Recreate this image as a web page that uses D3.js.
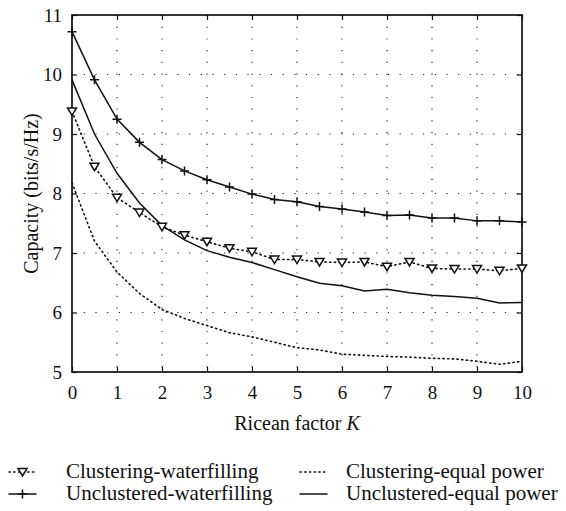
<!DOCTYPE html>
<html>
<head>
<meta charset="utf-8">
<script src="https://cdn.jsdelivr.net/npm/d3@7"></script>
<style>
  html, body { margin: 0; padding: 0; background: #fff; }
  svg text { font-family: "Liberation Serif", "Times New Roman", serif; fill: #111; }
</style>
</head>
<body>
<svg id="chart" width="566" height="511"></svg>
<script>
// Ricean factor K (x positions of all four curves)
const kValues = [0, 0.5, 1, 1.5, 2, 2.5, 3, 3.5, 4, 4.5, 5, 5.5, 6, 6.5, 7, 7.5, 8, 8.5, 9, 9.5, 10];

const clusteringWaterfilling = [9.38, 8.45, 7.93, 7.68, 7.44, 7.30, 7.19, 7.08, 7.02, 6.89, 6.89, 6.85, 6.84, 6.85, 6.77, 6.85, 6.74, 6.73, 6.73, 6.70, 6.74];
const unclusteredWaterfilling = [10.72, 9.91, 9.25, 8.86, 8.57, 8.38, 8.23, 8.11, 7.99, 7.90, 7.86, 7.78, 7.74, 7.69, 7.63, 7.64, 7.59, 7.59, 7.54, 7.54, 7.52];
const clusteringEqualPower = [8.18, 7.20, 6.68, 6.32, 6.05, 5.90, 5.78, 5.66, 5.59, 5.50, 5.41, 5.37, 5.30, 5.28, 5.26, 5.25, 5.23, 5.22, 5.18, 5.13, 5.18];
const unclusteredEqualPower = [9.91, 9.00, 8.34, 7.84, 7.46, 7.22, 7.04, 6.93, 6.84, 6.72, 6.60, 6.49, 6.45, 6.36, 6.39, 6.33, 6.29, 6.27, 6.24, 6.16, 6.17];

const xTicks = [0, 1, 2, 3, 4, 5, 6, 7, 8, 9, 10];
const yTicks = [5, 6, 7, 8, 9, 10, 11];

const legendItems = [
  { label: "Clustering-waterfilling", values: clusteringWaterfilling, dash: "1.3,3.4", marker: "tri" },
  { label: "Clustering-equal power", values: clusteringEqualPower, dash: "1.3,3.4", marker: null },
  { label: "Unclustered-waterfilling", values: unclusteredWaterfilling, dash: null, marker: "plus" },
  { label: "Unclustered-equal power", values: unclusteredEqualPower, dash: null, marker: null }
];

const svg = d3.select("#chart");
const margin = { left: 72, top: 15, right: 44, bottom: 139 };
const w = 566 - margin.left - margin.right;
const h = 511 - margin.top - margin.bottom;

const x = d3.scaleLinear().domain([0, 10]).range([0, w]);
const y = d3.scaleLinear().domain([5, 11]).range([h, 0]);

const g = svg.append("g").attr("transform", `translate(${margin.left},${margin.top})`);

// dotted grid
g.append("g").selectAll("line")
  .data(xTicks.slice(1, -1))
  .enter().append("line")
  .attr("x1", d => x(d)).attr("x2", d => x(d))
  .attr("y1", 0).attr("y2", h)
  .attr("stroke", "#222").attr("stroke-width", 1.1)
  .attr("stroke-dasharray", "1.2,10.5");

g.append("g").selectAll("line")
  .data(yTicks.slice(1, -1))
  .enter().append("line")
  .attr("y1", d => y(d)).attr("y2", d => y(d))
  .attr("x1", 0).attr("x2", w)
  .attr("stroke", "#222").attr("stroke-width", 1.1)
  .attr("stroke-dasharray", "1.2,10.5");

// axes with inward ticks
const xAxis = g.append("g").attr("transform", `translate(0,${h})`)
  .call(d3.axisBottom(x).tickValues(xTicks).tickFormat(d3.format("d")).tickSizeInner(-5).tickSizeOuter(0).tickPadding(14));
const yAxis = g.append("g")
  .call(d3.axisLeft(y).tickValues(yTicks).tickFormat(d3.format("d")).tickSizeInner(-5).tickSizeOuter(0).tickPadding(10));
g.append("g")
  .call(d3.axisTop(x).tickValues(xTicks).tickFormat("").tickSizeInner(-5).tickSizeOuter(0));
g.append("g").attr("transform", `translate(${w},0)`)
  .call(d3.axisRight(y).tickValues(yTicks).tickFormat("").tickSizeInner(-5).tickSizeOuter(0));

g.selectAll(".domain").remove();
g.selectAll(".tick line").attr("stroke", "#111").attr("stroke-width", 1.2);
g.selectAll(".tick text").attr("font-size", 19).attr("font-family", "Liberation Serif, serif").attr("fill", "#111");

g.append("rect")
  .attr("x", 0).attr("y", 0).attr("width", w).attr("height", h)
  .attr("fill", "none").attr("stroke", "#111").attr("stroke-width", 1.7);

// curves
const line = d3.line().x((d, i) => x(kValues[i])).y(d => y(d));

legendItems.forEach(s => {
  g.append("path")
    .datum(s.values)
    .attr("d", line)
    .attr("fill", "none")
    .attr("stroke", "#111")
    .attr("stroke-width", s.dash ? 1.6 : 1.5)
    .attr("stroke-linecap", "round")
    .attr("stroke-dasharray", s.dash);
});

function drawMarker(sel, type, cx, cy) {
  if (type === "tri") {
    sel.append("path")
      .attr("d", `M${cx - 4.5},${cy - 3.5}L${cx + 4.5},${cy - 3.5}L${cx},${cy + 4}Z`)
      .attr("fill", "#fff").attr("stroke", "#111").attr("stroke-width", 1.5);
  } else if (type === "plus") {
    sel.append("path")
      .attr("d", `M${cx - 4.5},${cy}L${cx + 4.5},${cy}M${cx},${cy - 4.5}L${cx},${cy + 4.5}`)
      .attr("stroke", "#111").attr("stroke-width", 1.5);
  }
}

legendItems.filter(s => s.marker).forEach(s => {
  const mg = g.append("g");
  s.values.forEach((v, i) => drawMarker(mg, s.marker, x(kValues[i]), y(v)));
});

// axis titles
g.append("text")
  .attr("x", w / 2).attr("y", h + 58)
  .attr("text-anchor", "middle")
  .attr("font-size", 20)
  .text("Ricean factor ")
  .append("tspan").attr("font-style", "italic").text("K");

svg.append("text")
  .attr("transform", `translate(38,${margin.top + h / 2}) rotate(-90)`)
  .attr("text-anchor", "middle")
  .attr("font-size", 20)
  .text("Capacity (bits/s/Hz)");

// legend
const legendPos = [
  { lx1: 9, lx2: 36, tx: 66, ty: 472 },
  { lx1: 300, lx2: 327, tx: 346, ty: 472 },
  { lx1: 9, lx2: 36, tx: 66, ty: 494 },
  { lx1: 300, lx2: 327, tx: 346, ty: 494 }
];

legendItems.forEach((s, i) => {
  const p = legendPos[i];
  const lg = svg.append("g");
  lg.append("line")
    .attr("x1", p.lx1).attr("x2", p.lx2)
    .attr("y1", p.ty).attr("y2", p.ty)
    .attr("stroke", "#111").attr("stroke-width", s.dash ? 1.6 : 1.5)
    .attr("stroke-linecap", "round")
    .attr("stroke-dasharray", s.dash);
  if (s.marker) drawMarker(lg, s.marker, (p.lx1 + p.lx2) / 2, p.ty);
  lg.append("text")
    .attr("x", p.tx).attr("y", p.ty + 6)
    .attr("font-size", 21)
    .text(s.label);
});
</script>
</body>
</html>
